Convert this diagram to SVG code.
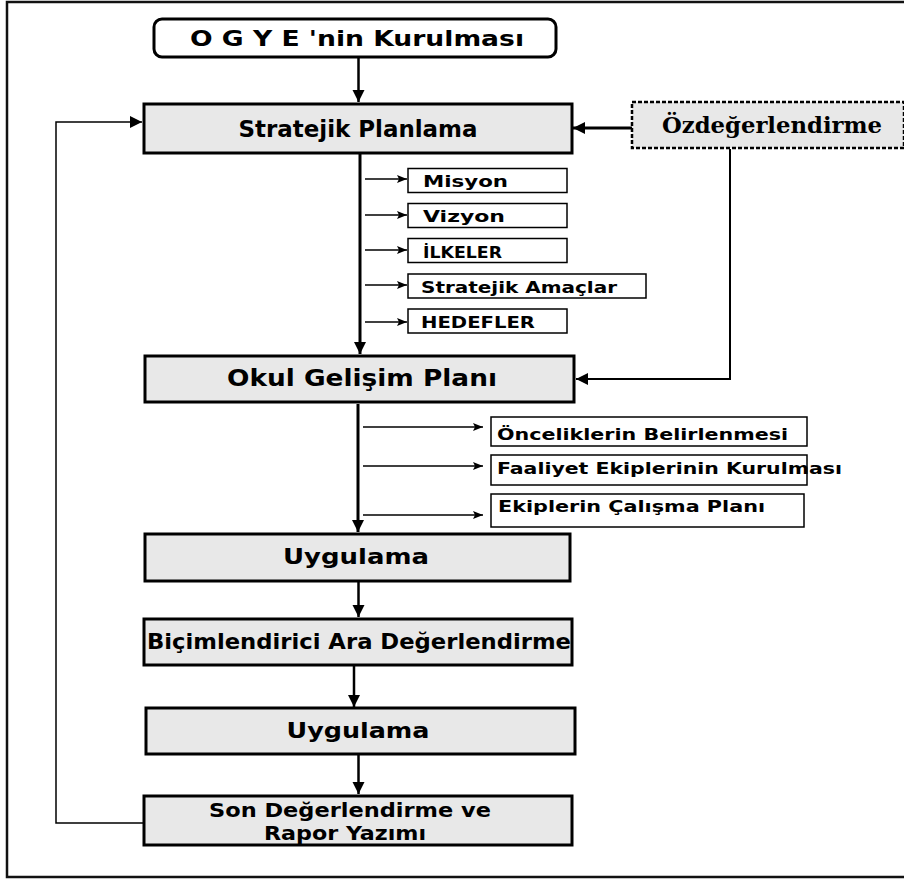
<svg xmlns="http://www.w3.org/2000/svg" width="904" height="881" viewBox="0 0 904 881">
<defs>
<marker id="ah" markerUnits="userSpaceOnUse" markerWidth="14" markerHeight="14" refX="12" refY="7" orient="auto">
<path d="M0,1 L12,7 L0,13 Z" fill="#000"/>
</marker>
<marker id="as" markerUnits="userSpaceOnUse" markerWidth="12" markerHeight="10" refX="10" refY="5" orient="auto">
<path d="M0,1 L10,5 L0,9 L2,5 Z" fill="#000"/>
</marker>
<style>
.box{fill:#e8e8e8;stroke:#000;stroke-width:3}
.sub{fill:#fff;stroke:#000;stroke-width:1.5}
.t{font-family:"DejaVu Sans Condensed","DejaVu Sans",sans-serif;font-weight:bold;fill:#000}
.w{font-family:"DejaVu Sans","Verdana",sans-serif;font-weight:bold;fill:#000}
.s{font-family:"DejaVu Serif","Liberation Serif",serif;font-weight:bold;fill:#000}
.c{fill:none;stroke:#000}
</style>
</defs>
<rect width="904" height="881" fill="#fff"/>
<path d="M904,2 H7 V877 H904" fill="none" stroke="#111" stroke-width="2.5"/>

<g id="connectors">
<line class="c" x1="358.5" y1="58" x2="358.5" y2="102" stroke-width="2.5" marker-end="url(#ah)"/>
<line class="c" x1="632" y1="128" x2="573" y2="128" stroke-width="3" marker-end="url(#ah)"/>
<path class="c" d="M730,149 V379 H576" stroke-width="2" marker-end="url(#ah)"/>
<path class="c" d="M143,823 H56 V122 H142" stroke-width="1.5" marker-end="url(#ah)"/>
<line class="c" x1="360" y1="154" x2="360" y2="354" stroke-width="3" marker-end="url(#ah)"/>
<line class="c" x1="365" y1="179" x2="407" y2="179" stroke-width="1.5" marker-end="url(#as)"/>
<line class="c" x1="365" y1="215" x2="407" y2="215" stroke-width="1.5" marker-end="url(#as)"/>
<line class="c" x1="365" y1="250" x2="407" y2="250" stroke-width="1.5" marker-end="url(#as)"/>
<line class="c" x1="365" y1="285" x2="407" y2="285" stroke-width="1.5" marker-end="url(#as)"/>
<line class="c" x1="365" y1="322" x2="407" y2="322" stroke-width="1.5" marker-end="url(#as)"/>
<line class="c" x1="358" y1="404" x2="358" y2="532" stroke-width="3" marker-end="url(#ah)"/>
<line class="c" x1="363" y1="427" x2="483" y2="427" stroke-width="1.5" marker-end="url(#as)"/>
<line class="c" x1="363" y1="466" x2="483" y2="466" stroke-width="1.5" marker-end="url(#as)"/>
<line class="c" x1="363" y1="515" x2="483" y2="515" stroke-width="1.5" marker-end="url(#as)"/>
<line class="c" x1="358.5" y1="582" x2="358.5" y2="617" stroke-width="2.5" marker-end="url(#ah)"/>
<line class="c" x1="354" y1="666" x2="354" y2="707" stroke-width="2.5" marker-end="url(#ah)"/>
<line class="c" x1="358.5" y1="755" x2="358.5" y2="794" stroke-width="2.5" marker-end="url(#ah)"/>
</g>

<g id="ogye">
<rect x="154" y="19" width="402" height="38" rx="8" fill="#fff" stroke="#000" stroke-width="3"/>
<text class="t" x="357" y="46" font-size="21" text-anchor="middle" textLength="334" lengthAdjust="spacingAndGlyphs">O G Y E 'nin Kurulması</text>
</g>

<g id="stratejik">
<rect class="box" x="144" y="104" width="428" height="49"/>
<text class="t" x="358" y="137" font-size="23" text-anchor="middle" textLength="239" lengthAdjust="spacingAndGlyphs">Stratejik Planlama</text>
</g>

<g id="ozdeg">
<rect x="632" y="102" width="272" height="46" fill="#e8e8e8" stroke="#000" stroke-width="2.5" stroke-dasharray="4,2"/>
<text class="s" x="772" y="133" font-size="23" text-anchor="middle" textLength="220" lengthAdjust="spacingAndGlyphs">Özdeğerlendirme</text>
</g>

<g id="misyon">
<rect class="sub" x="408" y="168.5" width="159" height="24"/>
<text class="w" x="423" y="187" font-size="16.5" textLength="85" lengthAdjust="spacingAndGlyphs">Misyon</text>
</g>
<g id="vizyon">
<rect class="sub" x="408" y="203.5" width="159" height="24"/>
<text class="w" x="423" y="222" font-size="16.5" textLength="82" lengthAdjust="spacingAndGlyphs">Vizyon</text>
</g>
<g id="ilkeler">
<rect class="sub" x="408" y="238.5" width="159" height="24"/>
<text class="w" x="423" y="258" font-size="15" textLength="79" lengthAdjust="spacingAndGlyphs">İLKELER</text>
</g>
<g id="amaclar">
<rect class="sub" x="408" y="274" width="238" height="24"/>
<text class="w" x="421" y="293" font-size="16" textLength="196" lengthAdjust="spacingAndGlyphs">Stratejik Amaçlar</text>
</g>
<g id="hedefler">
<rect class="sub" x="408" y="309" width="159" height="24"/>
<text class="w" x="421" y="328" font-size="15" textLength="114" lengthAdjust="spacingAndGlyphs">HEDEFLER</text>
</g>

<g id="okul">
<rect class="box" x="145" y="356" width="429" height="46"/>
<text class="w" x="362" y="386" font-size="23" text-anchor="middle" textLength="270" lengthAdjust="spacingAndGlyphs">Okul Gelişim Planı</text>
</g>

<g id="oncelik">
<rect class="sub" x="491" y="417" width="316" height="29"/>
<text class="w" x="497" y="440" font-size="16" textLength="291" lengthAdjust="spacingAndGlyphs">Önceliklerin Belirlenmesi</text>
</g>
<g id="faaliyet">
<rect class="sub" x="491" y="455" width="316" height="30"/>
<text class="w" x="497" y="474" font-size="16" textLength="345" lengthAdjust="spacingAndGlyphs">Faaliyet Ekiplerinin Kurulması</text>
</g>
<g id="calisma">
<rect class="sub" x="491" y="494" width="313" height="33"/>
<text class="w" x="498" y="512" font-size="16" textLength="267" lengthAdjust="spacingAndGlyphs">Ekiplerin Çalışma Planı</text>
</g>

<g id="uygulama1">
<rect class="box" x="145" y="534" width="425" height="47"/>
<text class="w" x="356" y="564" font-size="22" text-anchor="middle" textLength="146" lengthAdjust="spacingAndGlyphs">Uygulama</text>
</g>

<g id="bicim">
<rect class="box" x="144" y="619" width="428" height="46"/>
<text class="t" x="359" y="649" font-size="21" text-anchor="middle" textLength="424" lengthAdjust="spacingAndGlyphs">Biçimlendirici Ara Değerlendirme</text>
</g>

<g id="uygulama2">
<rect class="box" x="146" y="708" width="429" height="46"/>
<text class="t" x="358" y="738" font-size="22" text-anchor="middle" textLength="143" lengthAdjust="spacingAndGlyphs">Uygulama</text>
</g>

<g id="son">
<rect class="box" x="144" y="796" width="428" height="49"/>
<text class="t" x="350" y="817" font-size="19" text-anchor="middle" textLength="282" lengthAdjust="spacingAndGlyphs">Son Değerlendirme ve</text>
<text class="t" x="345" y="840" font-size="19" text-anchor="middle" textLength="162" lengthAdjust="spacingAndGlyphs">Rapor Yazımı</text>
</g>
</svg>
